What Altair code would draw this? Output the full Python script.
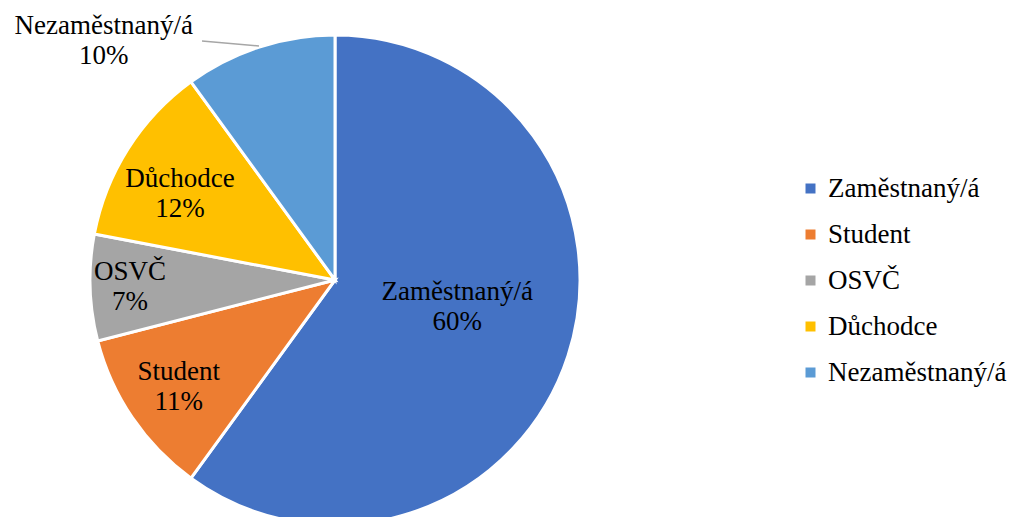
import altair as alt
import pandas as pd

categories = ["Zaměstnaný/á", "Student", "OSVČ", "Důchodce", "Nezaměstnaný/á"]
values = [60, 11, 7, 12, 10]
colors = ["#4472C4", "#ED7D31", "#A5A5A5", "#FFC000", "#5B9BD5"]

df = pd.DataFrame({"cat": categories, "value": values, "idx": list(range(len(categories)))})

CX, CY, R = 327, 272, 245
FONT = "Liberation Serif"
FS = 27

# label placement (radius px, angle offset deg) per category
label_r = "datum.cat == 'Zaměstnaný/á' ? 125 : datum.cat == 'Student' ? 189 : datum.cat == 'OSVČ' ? 205 : datum.cat == 'Důchodce' ? 178 : 333"
label_dth = "datum.cat == 'Zaměstnaný/á' ? -6 : datum.cat == 'Důchodce' ? -3 : datum.cat == 'Nezaměstnaný/á' ? -26.0 : 0"

base = alt.Chart(df)

arc = base.mark_arc(outerRadius=R, stroke="white", strokeWidth=3).encode(
    theta=alt.Theta("value:Q", stack=True),
    color=alt.Color(
        "cat:N",
        scale=alt.Scale(domain=categories, range=colors),
        legend=alt.Legend(
            title=None,
            orient="none",
            legendX=789,
            legendY=167,
            symbolType="square",
            symbolSize=100,
            symbolStrokeWidth=0,
            labelFont=FONT,
            labelFontSize=FS,
            labelColor="black",
            labelOffset=4,
            rowPadding=18,
            labelLimit=400,
        ),
    ),
    order=alt.Order("idx:Q"),
    x=alt.value(CX),
    y=alt.value(CY),
)

lab = base.transform_window(
    cum="sum(value)", sort=[alt.SortField("idx")], frame=[None, 0]
).transform_joinaggregate(
    total="sum(value)"
).transform_calculate(
    mid="2*PI*(datum.cum - datum.value/2)/datum.total",
    r=label_r,
    dth=label_dth,
).transform_calculate(
    ang="datum.mid + datum.dth*PI/180",
).transform_calculate(
    lx=f"{CX} + datum.r*sin(datum.ang)",
    ly=f"{CY} - datum.r*cos(datum.ang)",
    ex=f"{CX} + {R+1}*sin(datum.mid)",
    ey=f"{CY} - {R+1}*cos(datum.mid)",
    txt="datum.cat + '\\n' + format(datum.value/datum.total*100, '.0f') + '%'",
)

text = lab.mark_text(
    font=FONT, fontSize=FS, color="black", lineBreak="\n", lineHeight=30,
    align="center", baseline="middle", dy=-14,
).encode(
    x=alt.X("lx:Q", scale=None, axis=None),
    y=alt.Y("ly:Q", scale=None, axis=None),
    text="txt:N",
)

leader = lab.transform_filter("datum.cat == 'Nezaměstnaný/á'").mark_rule(
    color="#A6A6A6", strokeWidth=1.5
).encode(
    x=alt.X("ex:Q", scale=None, axis=None),
    y=alt.Y("ey:Q", scale=None, axis=None),
    x2=alt.value(194),
    y2=alt.value(33),
)

chart = alt.layer(arc, leader, text).properties(
    width=999, height=509, padding=0, autosize=alt.AutoSizeParams(type="none")
).configure_view(stroke=None)

chart.save("out.html", embed_options={"renderer": "svg", "actions": False})
